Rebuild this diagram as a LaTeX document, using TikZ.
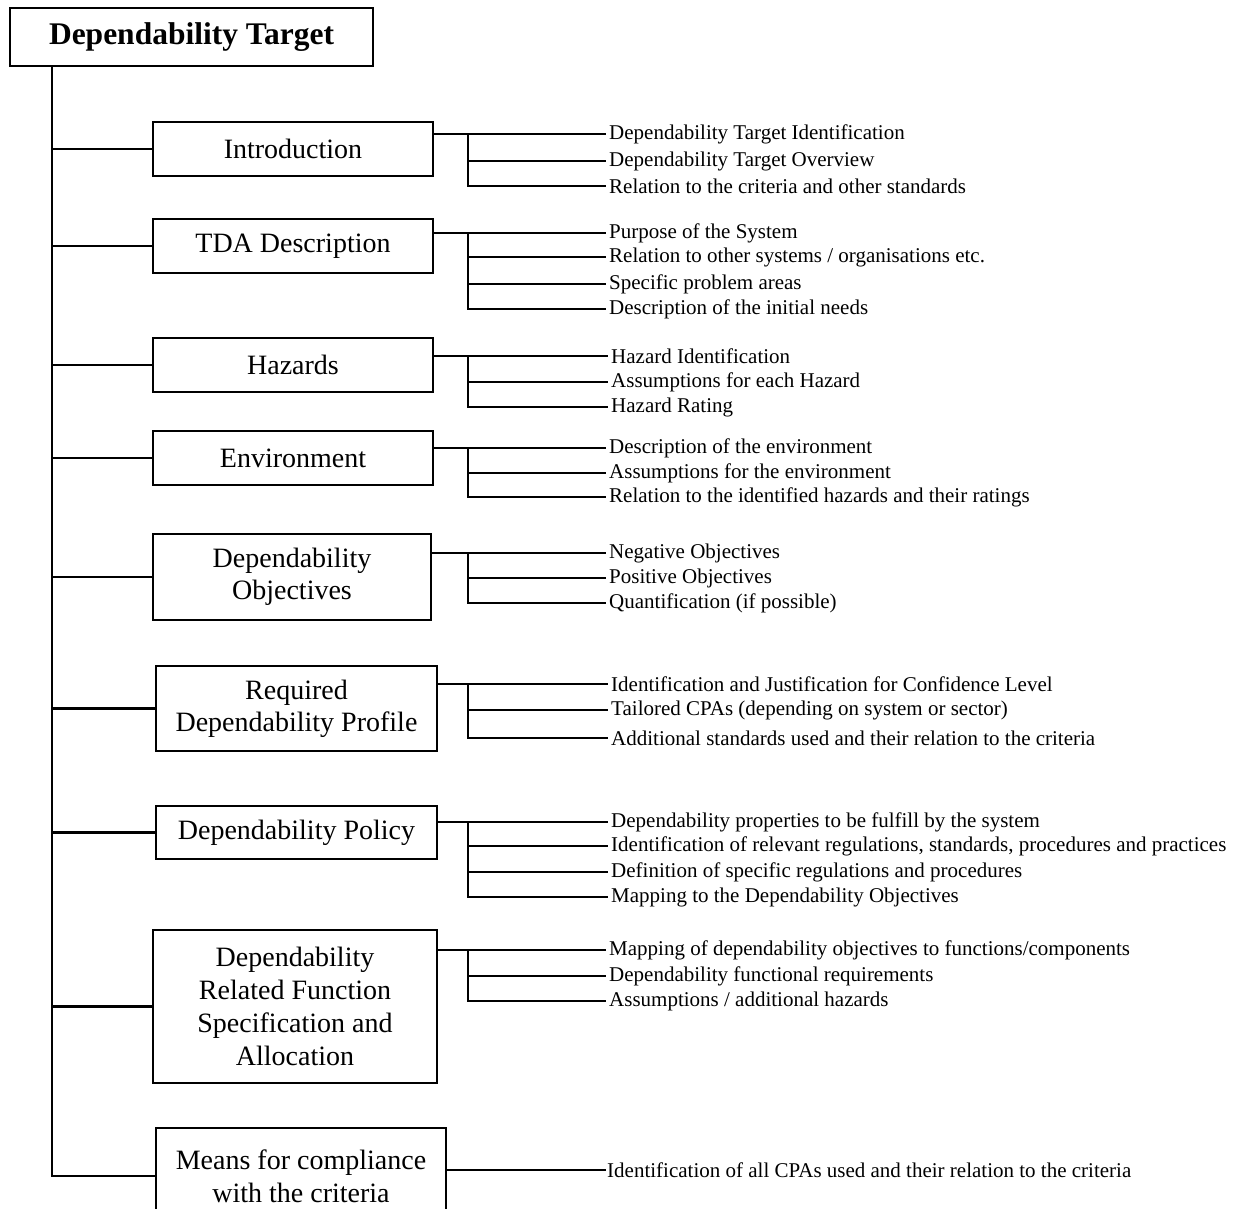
\documentclass[tikz,border=0pt]{standalone}
\usepackage{fontspec}
\setmainfont{Liberation Serif}
\begin{document}
\begin{tikzpicture}[x=1pt,y=-1pt,
  box/.style={draw, line width=2.6pt, align=center, inner sep=0pt,
    font=\fontsize{28}{32}\selectfont},
  item/.style={anchor=west, inner xsep=3pt, inner ysep=0pt, yshift=-1pt,
    font=\fontsize{21}{25}\selectfont},
  conn/.style={line width=2.6pt}]
\path[use as bounding box] (0,0) rectangle (1236,1209);

% title and section boxes
\node[box, minimum width=363pt, minimum height=58pt,
  font=\fontsize{31.5}{36}\selectfont\bfseries] (top) at (191.5,37) {Dependability Target};
\node[box, minimum width=280pt, minimum height=54pt] (intro) at (293,149) {Introduction};
\node[box, minimum width=280pt, minimum height=54pt] (tda) at (293,246) {TDA Description};
\node[box, minimum width=280pt, minimum height=54pt] (haz) at (293,365) {Hazards};
\node[box, minimum width=280pt, minimum height=54pt] (env) at (293,458) {Environment};
\node[box, minimum width=278pt, minimum height=86pt] (obj) at (292,577) {Dependability\\Objectives};
\node[box, minimum width=281pt, minimum height=85pt] (req) at (296.5,708.5) {Required\\Dependability Profile};
\node[box, minimum width=281pt, minimum height=53pt] (pol) at (296.5,832.5) {Dependability Policy};
\node[box, minimum width=284pt, minimum height=153pt, font=\fontsize{28}{33}\selectfont] (rfs) at (295,1006.5)
  {Dependability\\Related Function\\Specification and\\Allocation};
\node[box, minimum width=290pt, minimum height=96pt, font=\fontsize{28}{33}\selectfont] (means) at (301,1176)
  {Means for compliance\\with the criteria};

% main trunk
\coordinate (trunk) at (52,1176);
\draw[conn] (top.south -| trunk) -- (trunk) -- (means.west);
\foreach \b in {intro,tda,haz,env,obj,req,pol,rfs}
  \draw[conn] (\b.west -| trunk) -- (\b.west);

% items
\node[item] (intro1) at (606,133) {Dependability Target Identification};
\node[item] (intro2) at (606,160) {Dependability Target Overview};
\node[item] (intro3) at (606,185) {Relation to the criteria and other standards};

\node[item] (tda1) at (606,232) {Purpose of the System};
\node[item] (tda2) at (606,256) {Relation to other systems / organisations etc.};
\node[item] (tda3) at (606,283) {Specific problem areas};
\node[item] (tda4) at (606,308) {Description of the initial needs};

\node[item] (haz1) at (608,355) {Hazard Identification};
\node[item] (haz2) at (608,381) {Assumptions for each Hazard};
\node[item] (haz3) at (608,406) {Hazard Rating};

\node[item] (env1) at (606,447) {Description of the environment};
\node[item] (env2) at (606,472) {Assumptions for the environment};
\node[item] (env3) at (606,496) {Relation to the identified hazards and their ratings};

\node[item] (obj1) at (606,552) {Negative Objectives};
\node[item] (obj2) at (606,577) {Positive Objectives};
\node[item] (obj3) at (606,602) {Quantification (if possible)};

\node[item] (req1) at (608,683) {Identification and Justification for Confidence Level};
\node[item] (req2) at (608,709) {Tailored CPAs (depending on system or sector)};
\node[item] (req3) at (608,737) {Additional standards used and their relation to the criteria};

\node[item] (pol1) at (608,821) {Dependability properties to be fulfill by the system};
\node[item] (pol2) at (608,845) {Identification of relevant regulations, standards, procedures and practices};
\node[item] (pol3) at (608,871) {Definition of specific regulations and procedures};
\node[item] (pol4) at (608,896) {Mapping to the Dependability Objectives};

\node[item] (rfs1) at (606,949) {Mapping of dependability objectives to functions/components};
\node[item] (rfs2) at (606,975) {Dependability functional requirements};
\node[item] (rfs3) at (606,1000) {Assumptions / additional hazards};

\node[item, inner xsep=1pt] (means1) at (606,1169) {Identification of all CPAs used and their relation to the criteria};

% sub-buses
\coordinate (bus) at (468,0);
\draw[conn] (intro.east |- intro1.west) -- (intro1.west);
\draw[conn] (bus |- intro1.west) |- (intro3.west);
\draw[conn] (bus |- intro2.west) -- (intro2.west);

\draw[conn] (tda.east |- tda1.west) -- (tda1.west);
\draw[conn] (bus |- tda1.west) |- (tda4.west);
\foreach \i in {2,3} \draw[conn] (bus |- tda\i.west) -- (tda\i.west);

\draw[conn] (haz.east |- haz1.west) -- (haz1.west);
\draw[conn] (bus |- haz1.west) |- (haz3.west);
\draw[conn] (bus |- haz2.west) -- (haz2.west);

\draw[conn] (env.east |- env1.west) -- (env1.west);
\draw[conn] (bus |- env1.west) |- (env3.west);
\draw[conn] (bus |- env2.west) -- (env2.west);

\draw[conn] (obj.east |- obj1.west) -- (obj1.west);
\draw[conn] (bus |- obj1.west) |- (obj3.west);
\draw[conn] (bus |- obj2.west) -- (obj2.west);

\draw[conn] (req.east |- req1.west) -- (req1.west);
\draw[conn] (bus |- req1.west) |- (req3.west);
\draw[conn] (bus |- req2.west) -- (req2.west);

\draw[conn] (pol.east |- pol1.west) -- (pol1.west);
\draw[conn] (bus |- pol1.west) |- (pol4.west);
\foreach \i in {2,3} \draw[conn] (bus |- pol\i.west) -- (pol\i.west);

\draw[conn] (rfs.east |- rfs1.west) -- (rfs1.west);
\draw[conn] (bus |- rfs1.west) |- (rfs3.west);
\draw[conn] (bus |- rfs2.west) -- (rfs2.west);

\draw[conn] (means.east |- means1.west) -- (means1.west);
\end{tikzpicture}
\end{document}
